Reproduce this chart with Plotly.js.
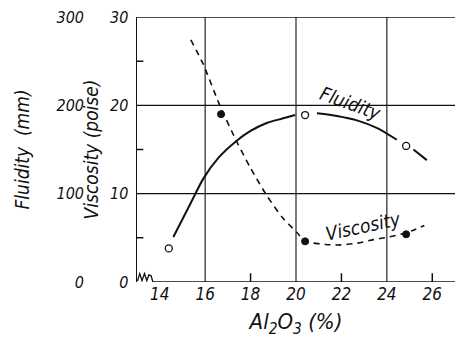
<!DOCTYPE html>
<html><head><meta charset="utf-8">
<script src="https://cdn.plot.ly/plotly-3.0.1.min.js"></script>
<style>html,body{margin:0;padding:0;background:#fff;}#chart{width:455px;height:347px;}</style>
</head><body><div id="chart"></div>
<script>
// Measured points
const fluidPtX = [14.4, 20.4, 24.85];
const fluidPtY = [38, 189, 154];          // mm
const viscPtX  = [16.7, 20.4, 24.85];
const viscPtY  = [19.0, 4.6, 5.4];        // poise

// Hand-drawn curves
const fluidCurveX = [14.6, 15.3, 15.92, 16.6, 17.39, 18.0, 18.71, 19.4, 19.96, null, 20.92, 21.8, 22.68, 23.6, 24.44, null, 25.17, 25.76];
const fluidCurveY = [51, 86, 117, 141, 160, 171, 180, 185, 189, null, 191, 188, 183, 174, 161, null, 150, 138];
const viscCurveX  = [15.37, 15.89, 16.66, 17.39, 18.0, 18.71, 19.4, 20.04, 20.4, 20.77, 21.3, 21.94, 22.7, 23.41, 24.1, 24.73, 25.2, 25.65];
const viscCurveY  = [27.4, 24.8, 19.9, 15.9, 12.9, 9.8, 7.3, 5.6, 4.6, 4.4, 4.25, 4.2, 4.4, 4.8, 5.1, 5.5, 5.9, 6.4];

const xTicks = [14, 16, 18, 20, 22, 24, 26];
const xSmallTicks = [18, 22, 26];
const xGrid  = [16, 20, 24];
const vTicks = [0, 10, 20, 30];
const vSmallTicks = [5, 15, 25];
const vGrid = [10, 20];
const fTicks = [0, 100, 200, 300];

const FONT = '"DejaVu Sans Condensed", "Liberation Sans Narrow", "DejaVu Sans", sans-serif';
const ink = '#111';

const traces = [
  {x: fluidCurveX, y: fluidCurveY, yaxis: 'y3', mode: 'lines', connectgaps: false,
   line: {color: ink, width: 2, shape: 'spline', smoothing: 0.7}, hoverinfo: 'skip'},
  {x: viscCurveX, y: viscCurveY, mode: 'lines',
   line: {color: ink, width: 1.6, dash: '6px,5px', shape: 'spline', smoothing: 0.7}, hoverinfo: 'skip'},
  {x: fluidPtX, y: fluidPtY, yaxis: 'y3', mode: 'markers',
   marker: {symbol: 'circle', size: 7, color: '#fff', line: {color: ink, width: 1.3}}},
  {x: viscPtX, y: viscPtY, mode: 'markers',
   marker: {symbol: 'circle', size: 7, color: ink, line: {color: ink, width: 1}}}
];

const tickFont = {family: FONT, size: 16, color: ink, style: 'italic'};
const titleFont = {family: FONT, size: 19, color: ink, style: 'italic'};

// frame, grid and small ticks as layout shapes tied to the axes
const shapes = [
  {type: 'line', xref: 'x', yref: 'y', x0: 13, x1: 27, y0: 30, y1: 30, line: {color: ink, width: 1.6}},
  {type: 'line', xref: 'x', yref: 'y', x0: 13.7, x1: 27, y0: 0, y1: 0, line: {color: ink, width: 1.6}},
  {type: 'path', xref: 'x', yref: 'y', path: 'M 13.02,0.1 L 13.12,0.95 L 13.22,0.15 L 13.33,0.95 L 13.43,0.15 L 13.52,0.8 L 13.62,0.7 L 13.7,0',
   line: {color: ink, width: 1.3}}
];
xGrid.forEach(v => shapes.push({type: 'line', layer: 'below', xref: 'x', yref: 'paper', x0: v, x1: v, y0: 0, y1: 1, line: {color: ink, width: 1.1}}));
vGrid.forEach(v => shapes.push({type: 'line', layer: 'below', xref: 'paper', yref: 'y', x0: 137/455, x1: 1, y0: v, y1: v, line: {color: ink, width: 1.1}}));
const tickPath = xSmallTicks.map(v => 'M ' + v + ',0 L ' + v + ',1').join(' ') + ' ' +
                 vSmallTicks.map(v => 'M 13,' + v + ' L 13.28,' + v).join(' ');
shapes.push({type: 'path', xref: 'x', yref: 'y', path: tickPath, line: {color: ink, width: 1.5}});

const layout = {
  width: 455, height: 347,
  margin: {l: 0, r: 0, t: 17, b: 65},
  paper_bgcolor: '#fff', plot_bgcolor: '#fff',
  showlegend: false,
  xaxis: {
    domain: [137/455, 1], range: [13, 27],
    tickvals: xTicks, ticks: '', showgrid: false, zeroline: false, showline: false,
    tickfont: {family: FONT, size: 17, color: ink, style: 'italic'},
    title: {text: 'Al<sub>2</sub>O<sub>3</sub> (%)', font: {family: FONT, size: 22, color: ink, style: 'italic'}, standoff: 10}
  },
  yaxis: {
    range: [0, 30], tickvals: vTicks, ticks: '',
    showgrid: false, zeroline: false, showline: true, linecolor: ink, linewidth: 1.5,
    ticklabelstandoff: 4, tickfont: tickFont,
    title: {text: 'Viscosity (poise)', font: titleFont, standoff: 6}
  },
  yaxis3: {
    overlaying: 'y', anchor: 'free', position: 84/455, side: 'left',
    range: [0, 300], tickvals: fTicks, ticks: '', showgrid: false, zeroline: false, showline: false,
    tickfont: tickFont,
    title: {text: 'Fluidity&nbsp;&nbsp;(mm)', font: titleFont, standoff: 20}
  },
  shapes: shapes,
  annotations: [
    {x: 22.4, y: 20.3, xref: 'x', yref: 'y', text: 'Fluidity', showarrow: false, textangle: 20,
     font: {family: FONT, size: 19, color: ink, style: 'italic'}},
    {x: 22.95, y: 6.3, xref: 'x', yref: 'y', text: 'Viscosity', showarrow: false, textangle: -12,
     font: {family: FONT, size: 19, color: ink, style: 'italic'}}
  ]
};

Plotly.newPlot('chart', traces, layout, {staticPlot: true, displayModeBar: false});
</script>
</body></html>
